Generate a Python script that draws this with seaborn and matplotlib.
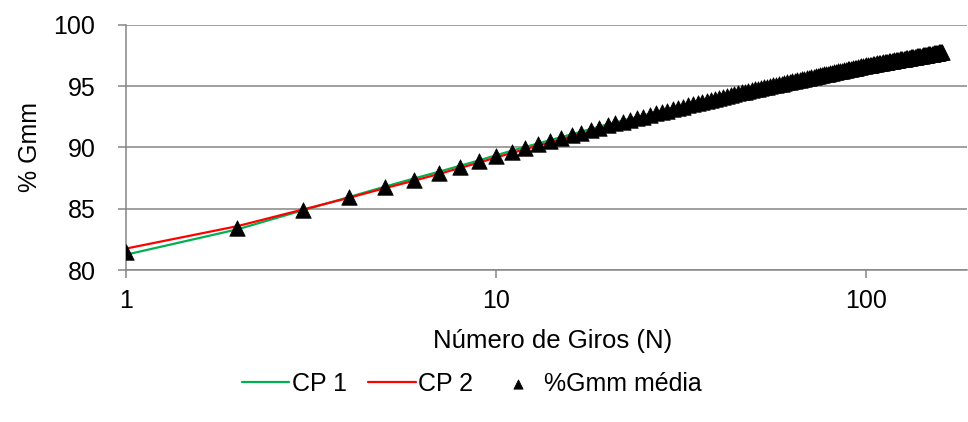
import numpy as np
import pandas as pd
import matplotlib
matplotlib.use("Agg")
import matplotlib.pyplot as plt
from matplotlib.ticker import FixedLocator, NullLocator, FixedFormatter
import seaborn as sns

# ---- data ----
giros = list(range(1, 161))

cp1 = [81.25, 83.32, 84.87, 85.95, 86.80, 87.47, 88.02, 88.51, 88.95, 89.37,
       89.73, 90.05, 90.34, 90.60, 90.85, 91.08, 91.30, 91.51, 91.70, 91.89,
       92.05, 92.20, 92.35, 92.48, 92.62, 92.74, 92.87, 92.99, 93.10, 93.21,
       93.32, 93.42, 93.52, 93.62, 93.71, 93.80, 93.89, 93.98, 94.07, 94.15,
       94.23, 94.31, 94.38, 94.46, 94.53, 94.60, 94.66, 94.72, 94.78, 94.84,
       94.89, 94.95, 95.00, 95.05, 95.10, 95.16, 95.21, 95.25, 95.30, 95.35,
       95.40, 95.44, 95.49, 95.53, 95.58, 95.62, 95.66, 95.70, 95.74, 95.78,
       95.83, 95.86, 95.90, 95.94, 95.98, 96.02, 96.05, 96.09, 96.13, 96.16,
       96.20, 96.23, 96.27, 96.30, 96.33, 96.37, 96.40, 96.43, 96.46, 96.49,
       96.53, 96.56, 96.59, 96.62, 96.65, 96.68, 96.71, 96.73, 96.76, 96.79,
       96.81, 96.84, 96.86, 96.88, 96.90, 96.93, 96.95, 96.97, 96.99, 97.01,
       97.03, 97.06, 97.08, 97.10, 97.12, 97.14, 97.16, 97.18, 97.20, 97.22,
       97.24, 97.26, 97.28, 97.29, 97.31, 97.33, 97.35, 97.37, 97.39, 97.41,
       97.42, 97.44, 97.46, 97.48, 97.49, 97.51, 97.53, 97.55, 97.56, 97.58,
       97.60, 97.61, 97.63, 97.65, 97.66, 97.68, 97.69, 97.71, 97.73, 97.74,
       97.76, 97.77, 97.79, 97.80, 97.82, 97.83, 97.85, 97.86, 97.88, 97.89]

cp2 = [81.75, 83.58, 84.93, 85.89, 86.68, 87.29, 87.84, 88.33, 88.77, 89.19,
       89.55, 89.87, 90.16, 90.42, 90.67, 90.90, 91.12, 91.33, 91.52, 91.71,
       91.87, 92.02, 92.17, 92.30, 92.44, 92.56, 92.69, 92.81, 92.92, 93.03,
       93.14, 93.24, 93.34, 93.44, 93.53, 93.62, 93.71, 93.80, 93.89, 93.97,
       94.05, 94.13, 94.20, 94.28, 94.35, 94.42, 94.48, 94.54, 94.60, 94.66,
       94.71, 94.77, 94.82, 94.87, 94.92, 94.98, 95.03, 95.07, 95.12, 95.17,
       95.22, 95.26, 95.31, 95.35, 95.40, 95.44, 95.48, 95.52, 95.56, 95.60,
       95.65, 95.68, 95.72, 95.76, 95.80, 95.84, 95.87, 95.91, 95.95, 95.98,
       96.02, 96.05, 96.09, 96.12, 96.15, 96.19, 96.22, 96.25, 96.28, 96.31,
       96.35, 96.38, 96.41, 96.44, 96.47, 96.50, 96.53, 96.55, 96.58, 96.61,
       96.63, 96.66, 96.68, 96.70, 96.72, 96.75, 96.77, 96.79, 96.81, 96.83,
       96.85, 96.88, 96.90, 96.92, 96.94, 96.96, 96.98, 97.00, 97.02, 97.04,
       97.06, 97.08, 97.10, 97.11, 97.13, 97.15, 97.17, 97.19, 97.21, 97.23,
       97.24, 97.26, 97.28, 97.30, 97.31, 97.33, 97.35, 97.37, 97.38, 97.40,
       97.42, 97.43, 97.45, 97.47, 97.48, 97.50, 97.51, 97.53, 97.55, 97.56,
       97.58, 97.59, 97.61, 97.62, 97.64, 97.65, 97.67, 97.68, 97.70, 97.71]

series_names = ["CP 1", "CP 2", "%Gmm média"]
x_ticks = [1, 10, 100]
x_tick_labels = ["1", "10", "100"]
y_ticks = [80, 85, 90, 95, 100]

df = pd.DataFrame({"N": giros, "CP 1": cp1, "CP 2": cp2})
df["%Gmm média"] = (df["CP 1"] + df["CP 2"]) / 2.0

# ---- style ----
sns.set_style("white")
plt.rcParams["font.family"] = ["Liberation Sans", "DejaVu Sans"]
plt.rcParams["text.color"] = "black"
plt.rcParams["axes.labelcolor"] = "black"
FS = 18
GRID = "#868686"

fig = plt.figure(figsize=(9.68, 4.22), dpi=100)
ax = fig.add_axes([126 / 968, 1 - 270 / 422, (967 - 126) / 968, (270 - 25) / 422])

sns.lineplot(data=df, x="N", y="CP 1", ax=ax, color="#00B050", lw=1.6,
             label=series_names[0], zorder=3)
sns.lineplot(data=df, x="N", y="CP 2", ax=ax, color="#FF0000", lw=1.6,
             label=series_names[1], zorder=3)
sns.scatterplot(data=df, x="N", y="%Gmm média", ax=ax, marker="^", color="black",
                s=125, edgecolor="black", linewidth=0.5, label=series_names[2], zorder=4)

ax.set_xscale("log")
ax.set_xlim(1, 187)
ax.set_ylim(80, 100)
ax.xaxis.set_major_locator(FixedLocator(x_ticks))
ax.xaxis.set_major_formatter(FixedFormatter(x_tick_labels))
ax.xaxis.set_minor_locator(NullLocator())
ax.set_yticks(y_ticks)

for s in ["top", "right"]:
    ax.spines[s].set_visible(False)
for s in ["left", "bottom"]:
    ax.spines[s].set_color(GRID)
    ax.spines[s].set_linewidth(1.1)

ax.yaxis.grid(True, color=GRID, lw=1.1)
ax.xaxis.grid(False)
ax.set_axisbelow(True)

ax.tick_params(axis="y", direction="out", length=6, width=1.1, color=GRID,
               labelsize=FS, labelcolor="black", pad=16, left=True)
ax.tick_params(axis="x", direction="out", length=6, width=1.1, color=GRID,
               labelsize=FS, labelcolor="black", pad=8, bottom=True)

ax.set_xlabel("Número de Giros (N)", fontsize=FS + 0.5, color="black")
ax.set_ylabel("% Gmm", fontsize=FS, color="black")
ax.xaxis.set_label_coords((553 - 126) / 841, (270 - 341) / 245)
ax.xaxis.label.set_va("center")
ax.yaxis.set_label_coords((30 - 126) / 841, 0.5)
ax.yaxis.label.set_va("center")

if ax.get_legend():
    ax.get_legend().remove()
handles, labels = ax.get_legend_handles_labels()
leg = fig.legend(handles, labels, loc="center", bbox_to_anchor=(472 / 968, 1 - 384 / 422),
                 ncol=3, frameon=False, fontsize=FS, handlelength=1.9,
                 handletextpad=0.1, columnspacing=0.85, markerscale=0.6)
for t in leg.get_texts():
    t.set_color("black")

fig.savefig("out.png", dpi=100)
